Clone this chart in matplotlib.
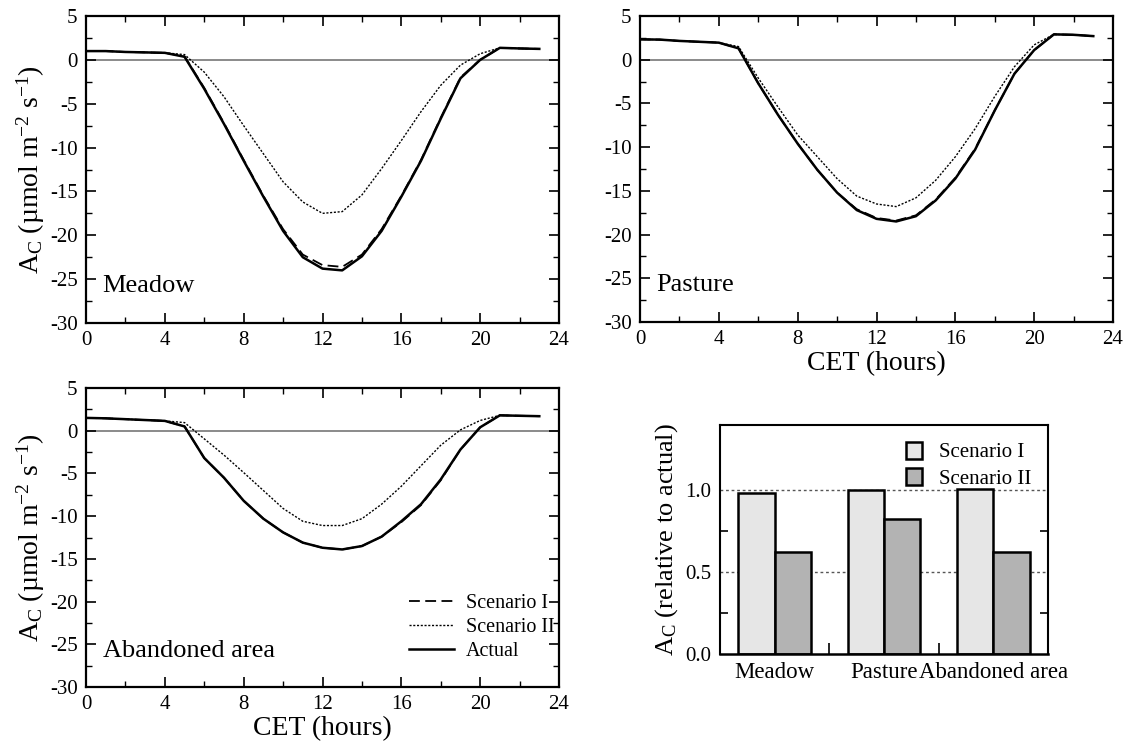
import matplotlib
matplotlib.use("Agg")
import matplotlib.pyplot as plt
from matplotlib.ticker import MultipleLocator, FixedLocator

plt.rcParams['font.family'] = ['Liberation Serif', 'DejaVu Serif']
plt.rcParams['mathtext.fontset'] = 'custom'
plt.rcParams['mathtext.rm'] = 'Liberation Serif'
plt.rcParams['mathtext.it'] = 'Liberation Serif:italic'
plt.rcParams['axes.unicode_minus'] = False

hours = list(range(24))

meadow_act = [1.0, 1.0, 0.9, 0.85, 0.8, 0.35, -3.3, -7.3, -11.5, -15.6, -19.5, -22.5,
              -23.8, -24.0, -22.4, -19.5, -15.6, -11.5, -6.7, -2.1, 0.0, 1.37, 1.3, 1.25]
meadow_s1 = [1.0, 1.0, 0.9, 0.85, 0.8, 0.4, -3.2, -7.2, -11.4, -15.5, -19.3, -22.2,
             -23.4, -23.6, -22.2, -19.3, -15.5, -11.4, -6.6, -2.0, 0.0, 1.37, 1.3, 1.25]
meadow_s2 = [1.0, 1.0, 0.9, 0.85, 0.8, 0.6, -1.4, -4.2, -7.5, -10.7, -13.9, -16.2,
             -17.5, -17.3, -15.4, -12.4, -9.2, -5.9, -2.9, -0.6, 0.7, 1.37, 1.3, 1.25]

pasture_act = [2.33, 2.3, 2.15, 2.05, 1.95, 1.3, -2.7, -6.3, -9.6, -12.6, -15.2, -17.2,
               -18.2, -18.5, -17.9, -16.1, -13.6, -10.3, -5.8, -1.6, 1.1, 2.9, 2.85, 2.7]
pasture_s1 = [2.33, 2.3, 2.15, 2.05, 1.95, 1.3, -2.7, -6.3, -9.6, -12.6, -15.2, -17.1,
              -18.1, -18.4, -17.8, -16.0, -13.5, -10.2, -5.8, -1.6, 1.1, 2.9, 2.85, 2.7]
pasture_s2 = [2.33, 2.3, 2.15, 2.05, 1.95, 1.5, -2.1, -5.4, -8.6, -11.1, -13.6, -15.6,
              -16.5, -16.8, -15.8, -13.8, -11.1, -7.9, -4.2, -0.8, 1.7, 2.9, 2.85, 2.7]

aband_act = [1.5, 1.45, 1.35, 1.25, 1.15, 0.5, -3.2, -5.5, -8.2, -10.3, -11.9, -13.1,
             -13.7, -13.9, -13.5, -12.4, -10.6, -8.6, -5.7, -2.2, 0.4, 1.8, 1.75, 1.7]
aband_s1 = [1.5, 1.45, 1.35, 1.25, 1.15, 0.5, -3.2, -5.5, -8.2, -10.3, -11.9, -13.1,
            -13.7, -13.9, -13.5, -12.4, -10.7, -8.7, -5.8, -2.2, 0.4, 1.8, 1.75, 1.7]
aband_s2 = [1.5, 1.45, 1.35, 1.25, 1.15, 0.95, -0.95, -2.85, -4.9, -7.0, -9.1, -10.6,
            -11.1, -11.1, -10.3, -8.6, -6.5, -4.1, -1.7, 0.1, 1.2, 1.8, 1.75, 1.7]

sites = ['Meadow', 'Pasture', 'Abandoned area']
rel_s1 = [0.985, 1.0, 1.01]
rel_s2 = [0.625, 0.825, 0.625]

ylab = r'A$_{\rm C}$ (µmol m$^{-2}$ s$^{-1}$)'

fig = plt.figure(figsize=(11.27, 7.47), dpi=100)
W, H = 1127, 747

def box(x0, y0, x1, y1):
    return [x0 / W, 1 - y1 / H, (x1 - x0) / W, (y1 - y0) / H]

ax1 = fig.add_axes(box(86, 16, 559, 323))
ax2 = fig.add_axes(box(640, 16, 1113, 322))
ax3 = fig.add_axes(box(86, 388, 559, 687))
ax4 = fig.add_axes(box(720, 425, 1048, 654))

panels = [(ax1, meadow_act, meadow_s1, meadow_s2, 'Meadow'),
          (ax2, pasture_act, pasture_s1, pasture_s2, 'Pasture'),
          (ax3, aband_act, aband_s1, aband_s2, 'Abandoned area')]

for ax, act, s1, s2, name in panels:
    ax.axhline(0, color='#777777', lw=1.2, zorder=1)
    ax.plot(hours, s1, color='black', ls=(0, (6, 3)), lw=1.3, label='Scenario I')
    ax.plot(hours, s2, color='black', ls=(0, (1.5, 1.2)), lw=1.0, label='Scenario II')
    ax.plot(hours, act, color='black', ls='-', lw=1.8, label='Actual')
    ax.set_xlim(0, 24)
    ax.set_ylim(-30, 5)
    ax.xaxis.set_major_locator(MultipleLocator(4))
    ax.xaxis.set_minor_locator(MultipleLocator(2))
    ax.yaxis.set_major_locator(MultipleLocator(5))
    ax.yaxis.set_minor_locator(MultipleLocator(2.5))
    ax.tick_params(which='both', direction='in', top=True, right=True, labelsize=15)
    ax.tick_params(which='major', length=7, width=1.2, pad=6)
    ax.tick_params(which='minor', length=4, width=1.0)
    for sp in ax.spines.values():
        sp.set_linewidth(1.6)
    ax.text(0.035, 0.12, name, transform=ax.transAxes, fontsize=19, va='center')

ax1.set_ylabel(ylab, fontsize=20, labelpad=2)
ax3.set_ylabel(ylab, fontsize=20, labelpad=2)
ax2.set_xlabel('CET (hours)', fontsize=20, labelpad=1)
ax3.set_xlabel('CET (hours)', fontsize=20, labelpad=1)

leg = ax3.legend(loc='lower right', frameon=False, fontsize=14.5, handlelength=2.2,
                 handletextpad=0.6, labelspacing=0.25, borderaxespad=0.3,
                 bbox_to_anchor=(1.02, 0.04))

# bar panel
xpos = list(range(len(sites)))
bw = 1 / 3
ax4.axhline(1.0, color='#555555', ls=(0, (2, 2)), lw=1.0, zorder=0)
ax4.axhline(0.5, color='#555555', ls=(0, (2, 2)), lw=1.0, zorder=0)
ax4.bar([x - bw / 2 for x in xpos], rel_s1, width=bw, color='#e6e6e6', edgecolor='black',
        lw=1.8, label='Scenario I', zorder=2)
ax4.bar([x + bw / 2 for x in xpos], rel_s2, width=bw, color='#b3b3b3', edgecolor='black',
        lw=1.8, label='Scenario II', zorder=2)
ax4.set_xlim(-0.5, 2.5)
ax4.set_ylim(0, 1.4)
ax4.xaxis.set_major_locator(FixedLocator([0.5, 1.5]))
ax4.xaxis.set_minor_locator(FixedLocator(xpos))
ax4.set_xticklabels([], minor=False)
ax4.set_xticklabels(sites, minor=True, fontsize=16.5)
ax4.tick_params(axis='x', which='major', direction='in', length=8, width=1.2)
ax4.tick_params(axis='x', which='minor', length=0, pad=6)
ax4.yaxis.set_major_locator(FixedLocator([0.0, 0.5, 1.0]))
ax4.yaxis.set_minor_locator(FixedLocator([0.25, 0.75]))
ax4.set_yticklabels(['0.0', '0.5', '1.0'])
ax4.tick_params(axis='y', which='both', direction='in', right=True, labelsize=15)
ax4.tick_params(axis='y', which='major', length=0, pad=6)
ax4.tick_params(axis='y', which='minor', length=6, width=1.2)
for sp in ax4.spines.values():
    sp.set_linewidth(1.5)
ax4.spines['bottom'].set_linewidth(1.8)
ax4.set_ylabel(r'A$_{\rm C}$ (relative to actual)', fontsize=19, labelpad=4)
ax4.legend(loc='upper right', frameon=False, fontsize=15, handlelength=0.8,
           handleheight=0.9, handletextpad=0.8, borderaxespad=0.4, labelspacing=0.25)

fig.savefig('out.png', dpi=100)
